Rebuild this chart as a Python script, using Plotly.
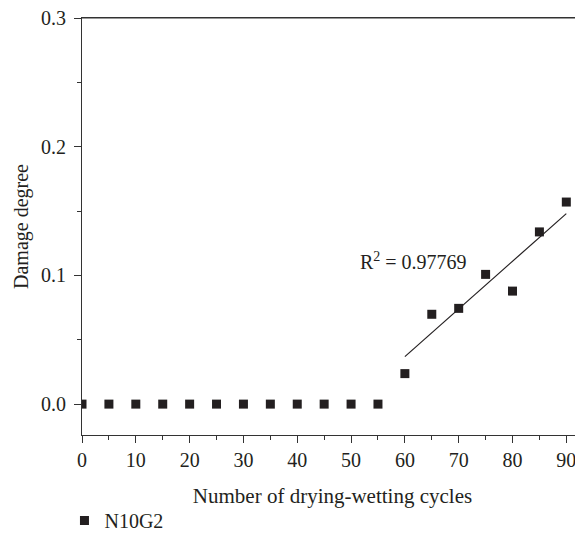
import plotly.graph_objects as go

cycles = [0, 5, 10, 15, 20, 25, 30, 35, 40, 45, 50, 55, 60, 65, 70, 75, 80, 85, 90]
damage = [0, 0, 0, 0, 0, 0, 0, 0, 0, 0, 0, 0,
          0.0237, 0.0698, 0.0744, 0.1008, 0.0878, 0.1338, 0.157]
fit_x = [60, 90]
fit_y = [0.0369, 0.148]
r2_text = "R<sup>2</sup> = 0.97769"
series_name = "N10G2"

FONT = "Liberation Serif"
INK = "#231f20"
AX = "#333333"
FS = 20

fig = go.Figure()
fig.add_trace(go.Scatter(
    x=cycles, y=damage, mode="markers", name=series_name,
    marker=dict(symbol="square", size=9, color=INK, line=dict(width=0)),
))
fig.add_trace(go.Scatter(
    x=fit_x, y=fit_y, mode="lines", showlegend=False,
    line=dict(color=INK, width=1.2),
))
fig.add_annotation(x=51.3, y=0.111, text=r2_text, showarrow=False,
                   xanchor="left", yanchor="middle",
                   font=dict(family=FONT, size=FS, color=INK))
fig.add_shape(type="line", xref="paper", yref="paper", x0=0, x1=1, y0=1, y1=1,
              line=dict(color=AX, width=1.2))

fig.update_layout(
    width=575, height=527,
    margin=dict(l=74, r=0, t=10, b=100, autoexpand=False),
    paper_bgcolor="white", plot_bgcolor="white",
    font=dict(family=FONT, size=FS, color=INK),
    showlegend=True,
    legend=dict(orientation="h", x=-0.035, y=-0.205, xanchor="left", yanchor="middle",
                font=dict(family=FONT, size=FS, color=INK), itemwidth=30,
                bgcolor="rgba(0,0,0,0)"),
)
fig.update_xaxes(
    range=[0, 93.1], dtick=10, tick0=0, showgrid=False, zeroline=False,
    showline=True, linecolor=AX, linewidth=1.2, mirror=True, automargin=False,
    ticks="outside", ticklen=7, tickwidth=1.2, tickcolor=AX,
    minor=dict(dtick=5, ticks="outside", ticklen=4, tickwidth=1.2, tickcolor=AX, showgrid=False),
    ticklabelstandoff=0, ticklabeloverflow="allow",
    title=dict(text="Number of drying-wetting cycles", standoff=18,
               font=dict(family=FONT, size=21, color=INK)),
    tickfont=dict(family=FONT, size=FS, color=INK),
)
fig.update_yaxes(
    range=[-0.024, 0.3], dtick=0.1, tick0=0, tickformat=".1f",
    showgrid=False, zeroline=False, automargin=False,
    showline=True, linecolor=AX, linewidth=1.2, mirror=False,
    ticks="outside", ticklen=7, tickwidth=1.2, tickcolor=AX,
    minor=dict(dtick=0.05, ticks="outside", ticklen=4, tickwidth=1.2, tickcolor=AX, showgrid=False),
    ticklabelstandoff=4, ticklabeloverflow="allow",
    title=dict(text="Damage degree", standoff=6,
               font=dict(family=FONT, size=FS, color=INK)),
    tickfont=dict(family=FONT, size=FS, color=INK),
)

fig.write_html("out.html")
